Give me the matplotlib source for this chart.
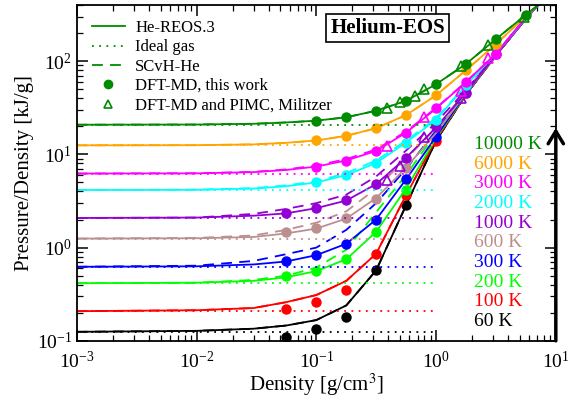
import matplotlib
matplotlib.use("Agg")
import matplotlib.pyplot as plt
from matplotlib.lines import Line2D

plt.rcParams["font.family"] = "Liberation Serif"
plt.rcParams["mathtext.fontset"] = "stix"

# temperatures, colours (grace palette)
temps = ["60 K", "100 K", "200 K", "300 K", "600 K", "1000 K",
         "2000 K", "3000 K", "6000 K", "10000 K"]
colors = ["black", "#ff0000", "#00ff00", "#0000ff", "#bc8f8f", "#9400d3",
          "#00ffff", "#ff00ff", "#ffa500", "#008b00"]

# ideal gas P/rho [kJ/g], drawn up to rho = 1 g/cc
ideal = [0.125, 0.208, 0.415, 0.623, 1.25, 2.08, 4.15, 6.23, 12.5, 20.8]
rho_ideal = [1e-3, 1.0]

# He-REOS.3 isotherms
rho_eos = [0.001, 0.01, 0.03, 0.056, 0.1, 0.178, 0.316, 0.562, 1.0, 1.78, 3.16, 5.62, 10.0]
reos = [
    [0.125, 0.128, 0.135, 0.146, 0.167, 0.24, 0.57, 2.85, 14.0, 44, 115, 285, 650],
    [0.208, 0.213, 0.225, 0.26, 0.31, 0.44, 0.86, 3.66, 14.5, 44, 115, 285, 650],
    [0.415, 0.42, 0.44, 0.48, 0.56, 0.75, 1.48, 4.3, 15.0, 44.5, 116, 285, 650],
    [0.623, 0.63, 0.66, 0.71, 0.83, 1.10, 2.0, 5.4, 15.5, 45, 116, 285, 650],
    [1.25, 1.26, 1.30, 1.42, 1.60, 2.05, 3.4, 7.2, 17.0, 45.5, 117, 287, 650],
    [2.08, 2.10, 2.20, 2.33, 2.65, 3.2, 4.8, 9.2, 19.5, 46, 118, 288, 650],
    [4.15, 4.17, 4.30, 4.55, 5.0, 6.0, 8.1, 13.4, 23.5, 55, 122, 290, 640],
    [6.23, 6.26, 6.45, 6.8, 7.4, 8.6, 10.9, 17.1, 31.0, 60, 120, 295, 630],
    [12.5, 12.55, 12.8, 13.3, 14.1, 15.8, 19.1, 26.4, 43.0, 80, 152, 305, 600],
    [20.8, 20.9, 21.3, 22.0, 23.0, 25.0, 29.4, 37.5, 56.5, 93.5, 172, 314, 560],
]

# SCvH-He isotherms
scvh = [
    [0.125, 0.128, 0.135, 0.146, 0.167, 0.24, 0.57, 2.85, 14.0, 44, 115, 285, 650],
    [0.208, 0.213, 0.225, 0.26, 0.31, 0.44, 0.86, 3.66, 14.5, 44, 115, 285, 650],
    [0.415, 0.42, 0.45, 0.50, 0.61, 0.95, 2.4, 6.0, 17.0, 47, 118, 290, 650],
    [0.623, 0.64, 0.72, 0.85, 1.0, 1.55, 3.0, 7.0, 18.0, 48, 119, 290, 650],
    [1.25, 1.27, 1.35, 1.55, 1.85, 2.45, 4.3, 9.0, 19.0, 48, 119, 290, 650],
    [2.08, 2.10, 2.30, 2.60, 3.0, 3.7, 5.8, 11.0, 22.0, 49, 119, 290, 650],
    [4.15, 4.18, 4.35, 4.65, 5.15, 6.3, 8.6, 14.0, 24.5, 55, 122, 290, 640],
    [6.23, 6.27, 6.5, 6.9, 7.6, 8.9, 11.3, 17.6, 31.5, 60, 120, 295, 630],
    [12.5, 12.55, 12.8, 13.3, 14.1, 15.8, 19.1, 26.4, 43.0, 80, 152, 305, 600],
    [20.8, 20.9, 21.3, 22.0, 23.0, 25.0, 29.4, 37.5, 56.5, 93.5, 172, 314, 560],
]

# DFT-MD, this work
rho_dft = [0.0562, 0.1, 0.178, 0.316, 0.562, 1.0, 1.78, 3.16, 5.62]
dft = [
    [0.111, 0.135, 0.181, 0.569, 2.85],
    [0.221, 0.26, 0.355, 0.857, 3.66, 14.0],
    [0.495, 0.56, 0.751, 1.48, 4.2],
    [0.727, 0.836, 1.10, 1.99, 5.38, 15.5],
    [1.46, 1.63, 2.07, 3.34, 7.1, None, 45],
    [2.35, 2.67, 3.21, 4.77, 9.1, 19.5, 46, 118],
    [None, 5.03, 6.0, 8.07, 13.4, 23.4, 55],
    [None, 7.4, 8.57, 10.9, 17.1, 31.8, 59.8, 119.6],
    [None, 14.1, 15.8, 19.1, 26.4, 43.2, 80.7, 152.8],
    [None, 23.0, 24.9, 29.4, 37.5, 56.5, 93.5, 172.6, 314],
]

# DFT-MD and PIMC (Militzer)
mil_idx = [5, 7, 9]
mil_rho = [
    [0.387, 0.5, 0.8, 1.6],
    [0.387, 0.8, 1.6, 2.7],
    [0.387, 0.5, 0.662, 0.8, 1.6, 2.7, 5.4],
]
mil_p = [
    [5.3, 7.5, 15.5, 40],
    [12.2, 25.4, 47.6, 107],
    [31.1, 36.2, 42.5, 49.8, 87.9, 150.7, 301],
]

fig = plt.figure(figsize=(5.82, 4.01), dpi=100)
ax = fig.add_axes([0.132, 0.15, 0.823, 0.8375])

for i, c in enumerate(colors):
    ax.plot(rho_eos, reos[i], "-", color=c, lw=1.3)
    ax.plot(rho_eos, scvh[i], "--", color=c, lw=1.3, dashes=(6, 4))
    ax.plot(rho_ideal, [ideal[i]] * 2, ":", color=c, lw=1.3, dashes=(1, 3))
    pts = [(r, p) for r, p in zip(rho_dft, dft[i]) if p is not None]
    ax.plot([r for r, _ in pts], [p for _, p in pts], "o", color=c, ms=6.5, mec=c)

for k, i in enumerate(mil_idx):
    ax.plot(mil_rho[k], mil_p[k], "^", color=colors[i], mfc="none", mew=1.2, ms=6.5)

ax.set_xscale("log")
ax.set_yscale("log")
ax.set_xlim(1e-3, 10)
ax.set_ylim(0.1, 400)
ax.set_xlabel("Density [g/cm$^3$]", fontsize=15, labelpad=0)
ax.set_ylabel("Pressure/Density [kJ/g]", fontsize=15, labelpad=2)
ax.tick_params(which="both", direction="in", top=True, right=True, labelsize=14)
ax.tick_params(which="major", length=8, width=1.1)
ax.tick_params(which="minor", length=4, width=0.9)
ax.tick_params(axis="x", pad=7)
for s in ax.spines.values():
    s.set_linewidth(1.3)

# isotherm labels
for j, (t, c) in enumerate(zip(temps, colors)):
    ax.text(0.829, 0.058 + j * 0.0585, t, color=c, fontsize=14,
            transform=ax.transAxes, va="center", ha="left")

ax.annotate("", xy=(1.0, 0.634), xytext=(1.0, 0.0), xycoords="axes fraction",
            arrowprops=dict(arrowstyle="->,head_length=0.9,head_width=0.55",
                            lw=2.5, color="black", shrinkA=0, shrinkB=0),
            annotation_clip=False)

ax.text(0.649, 0.932, "Helium-EOS", transform=ax.transAxes, fontsize=15,
        fontweight="bold", ha="center", va="center",
        bbox=dict(boxstyle="square,pad=0.2", fc="white", ec="black", lw=1.2))

g = colors[-1]
handles = [
    Line2D([], [], color=g, lw=1.3),
    Line2D([], [], color=g, lw=1.3, ls=":", dashes=(1, 3)),
    Line2D([], [], color=g, lw=1.3, ls="--", dashes=(6, 4)),
    Line2D([], [], color=g, marker="o", ls="none", ms=6),
    Line2D([], [], color=g, marker="^", mfc="none", mew=1.2, ls="none", ms=6),
]
labels = ["He-REOS.3", "Ideal gas", "SCvH-He", "DFT-MD, this work",
          "DFT-MD and PIMC, Militzer"]
ax.legend(handles, labels, loc="upper left", frameon=False, fontsize=12,
          handlelength=2.0, handletextpad=0.6, labelspacing=0.2,
          borderaxespad=0.5, bbox_to_anchor=(0.0, 1.0))

fig.savefig("out.png", dpi=100)
